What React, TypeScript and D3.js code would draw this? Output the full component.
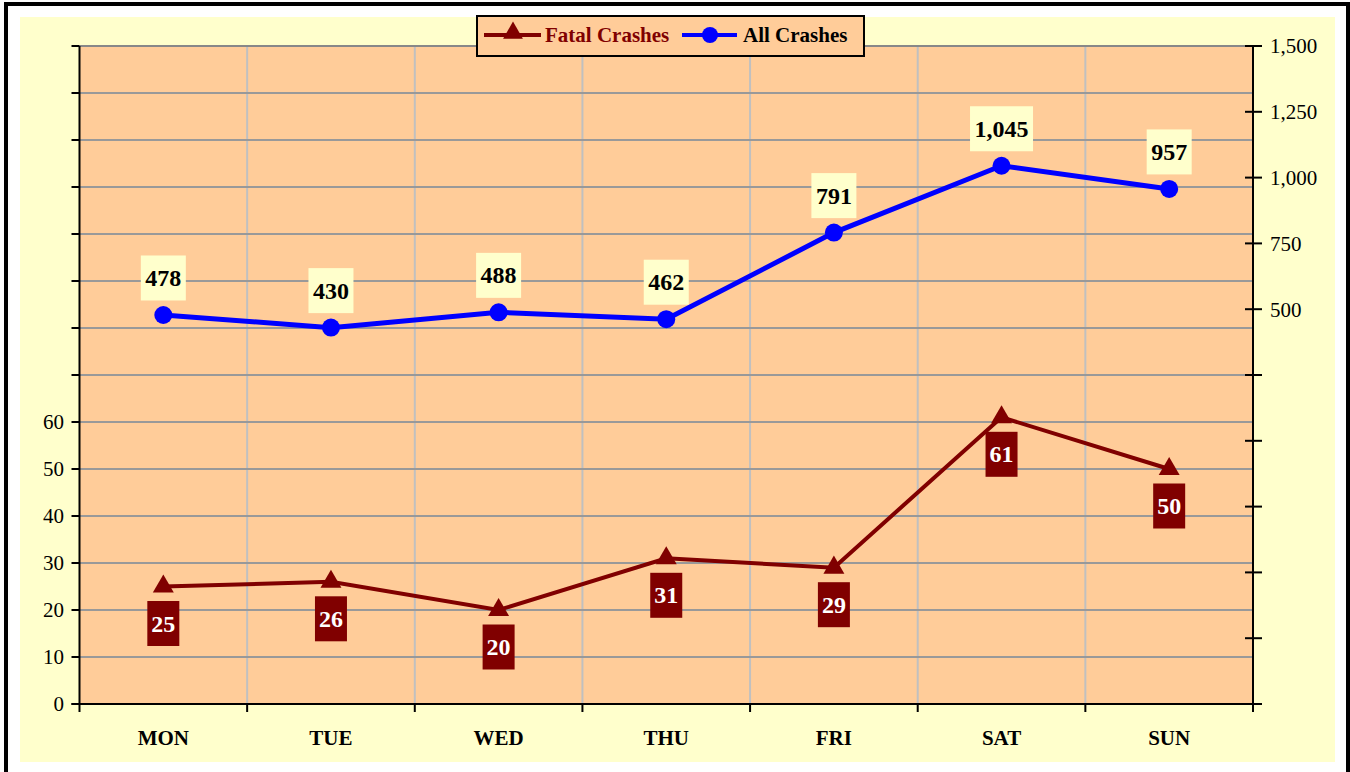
import React from 'react';
import * as d3 from 'd3';

const days = ['MON', 'TUE', 'WED', 'THU', 'FRI', 'SAT', 'SUN'];
const fatalCrashes = [25, 26, 20, 31, 29, 61, 50];
const allCrashes = [478, 430, 488, 462, 791, 1045, 957];
const leftTicks = d3.range(0, 141, 10);
const rightTicks = d3.range(-1000, 1501, 250);

const W = 1350;
const H = 772;
const plot = { left: 79.5, right: 1253, top: 46, bottom: 704 };
const FONT = '"Liberation Serif", "Times New Roman", serif';
const DARK_RED = '#800000';

// rough width of bold 24px serif text
const labelWidth = (s: string) =>
  s.split('').reduce((w, ch) => w + (ch === ',' ? 6 : 12), 0);

const App: React.FC = () => {
  const x = d3.scaleBand<string>().domain(days).range([plot.left, plot.right]);
  const cx = (d: string) => (x(d) as number) + x.bandwidth() / 2;
  const yL = d3.scaleLinear().domain([0, 140]).range([plot.bottom, plot.top]);
  const yR = d3.scaleLinear().domain([-1000, 1500]).range([plot.bottom, plot.top]);
  const fmt = d3.format(',');

  const fatalLine = d3.line<number>()
    .x((_, i) => cx(days[i]))
    .y(d => yL(d));
  const allLine = d3.line<number>()
    .x((_, i) => cx(days[i]))
    .y(d => yR(d));

  const triangle = d3.symbol().type(d3.symbolTriangle).size(190)();
  const legendTriangle = d3.symbol().type(d3.symbolTriangle).size(170)();

  return (
    <svg
      width={W}
      height={H}
      style={{ position: 'absolute', left: 0, top: 0, background: '#ffffff' }}
      fontFamily={FONT}
    >
      {/* outer frame */}
      <rect x={6} y={4} width={1342} height={H + 10} fill="#ffffff" stroke="#000" strokeWidth={4} />
      <rect x={20} y={17} width={1315} height={745} fill="#FFFFCC" />

      {/* plot area */}
      <rect
        x={plot.left}
        y={plot.top}
        width={plot.right - plot.left}
        height={plot.bottom - plot.top}
        fill="#FFCC99"
      />

      {/* vertical grid */}
      {days.slice(1).map(d => (
        <line
          key={'v' + d}
          x1={x(d)}
          x2={x(d)}
          y1={plot.top}
          y2={plot.bottom}
          stroke="#C0C0C0"
          strokeWidth={2}
        />
      ))}

      {/* horizontal grid */}
      {leftTicks.slice(1).map(t => (
        <line
          key={'h' + t}
          x1={plot.left}
          x2={plot.right}
          y1={yL(t)}
          y2={yL(t)}
          stroke={t === 140 ? '#888888' : '#999999'}
          strokeWidth={2}
        />
      ))}

      {/* left axis */}
      <line x1={plot.left} x2={plot.left} y1={plot.top} y2={plot.bottom} stroke="#000" strokeWidth={2} />
      {leftTicks.map(t => (
        <g key={'lt' + t} transform={`translate(0,${yL(t)})`}>
          <line x1={plot.left - 8} x2={plot.left} stroke="#000" strokeWidth={2} />
          {t <= 60 && (
            <text x={64} dy="0.35em" textAnchor="end" fontSize={21} fill="#000">
              {t}
            </text>
          )}
        </g>
      ))}

      {/* right axis */}
      <line x1={plot.right} x2={plot.right} y1={plot.top} y2={plot.bottom + 8} stroke="#000" strokeWidth={2} />
      {rightTicks.map(t => (
        <g key={'rt' + t} transform={`translate(0,${yR(t)})`}>
          <line x1={plot.right - 8} x2={plot.right + 9} stroke="#000" strokeWidth={2} />
          {t >= 500 && (
            <text x={1270} dy="0.35em" textAnchor="start" fontSize={21} fill="#000">
              {fmt(t)}
            </text>
          )}
        </g>
      ))}

      {/* bottom axis */}
      <line x1={plot.left - 8} x2={plot.right} y1={plot.bottom} y2={plot.bottom} stroke="#000" strokeWidth={2} />
      {[...days.map(d => x(d) as number), plot.right].map((px, i) => (
        <line key={'bt' + i} x1={px} x2={px} y1={plot.bottom} y2={plot.bottom + 8} stroke="#000" strokeWidth={2} />
      ))}
      {days.map(d => (
        <text key={'cl' + d} x={cx(d)} y={745} textAnchor="middle" fontSize={21} fontWeight="bold" fill="#000">
          {d}
        </text>
      ))}

      {/* All crashes */}
      <path d={allLine(allCrashes) || ''} fill="none" stroke="#0000FF" strokeWidth={5} />
      {allCrashes.map((v, i) => (
        <circle key={'ac' + i} cx={cx(days[i])} cy={yR(v)} r={9} fill="#0000FF" />
      ))}
      {allCrashes.map((v, i) => {
        const s = fmt(v);
        const w = labelWidth(s) + 9;
        const yc = yR(v) - 37;
        return (
          <g key={'al' + i}>
            <rect x={cx(days[i]) - w / 2} y={yc - 22.5} width={w} height={45} fill="#FFFFCC" />
            <text x={cx(days[i])} y={yc + 8} textAnchor="middle" fontSize={24} fontWeight="bold" fill="#000">
              {s}
            </text>
          </g>
        );
      })}

      {/* Fatal crashes */}
      <path d={fatalLine(fatalCrashes) || ''} fill="none" stroke={DARK_RED} strokeWidth={4} />
      {fatalCrashes.map((v, i) => (
        <path key={'ft' + i} d={triangle || ''} transform={`translate(${cx(days[i])},${yL(v)})`} fill={DARK_RED} />
      ))}
      {fatalCrashes.map((v, i) => {
        const s = String(v);
        const w = labelWidth(s) + 8;
        const yc = yL(v) + 37;
        return (
          <g key={'fl' + i}>
            <rect x={cx(days[i]) - w / 2} y={yc - 22.5} width={w} height={45} fill={DARK_RED} />
            <text x={cx(days[i])} y={yc + 8} textAnchor="middle" fontSize={24} fontWeight="bold" fill="#fff">
              {s}
            </text>
          </g>
        );
      })}

      {/* legend */}
      <g>
        <rect x={477} y={16} width={387} height={40} fill="#FFCC99" stroke="#000" strokeWidth={2} />
        <line x1={484} x2={541} y1={35} y2={35} stroke={DARK_RED} strokeWidth={4} />
        <path d={legendTriangle || ''} transform="translate(513,33)" fill={DARK_RED} />
        <text x={545} y={42} fontSize={21} fontWeight="bold" fill={DARK_RED}>
          Fatal Crashes
        </text>
        <line x1={682} x2={737} y1={35} y2={35} stroke="#0000FF" strokeWidth={4} />
        <circle cx={710} cy={35} r={8} fill="#0000FF" />
        <text x={743} y={42} fontSize={21} fontWeight="bold" fill="#000">
          All Crashes
        </text>
      </g>
    </svg>
  );
};

export default App;
